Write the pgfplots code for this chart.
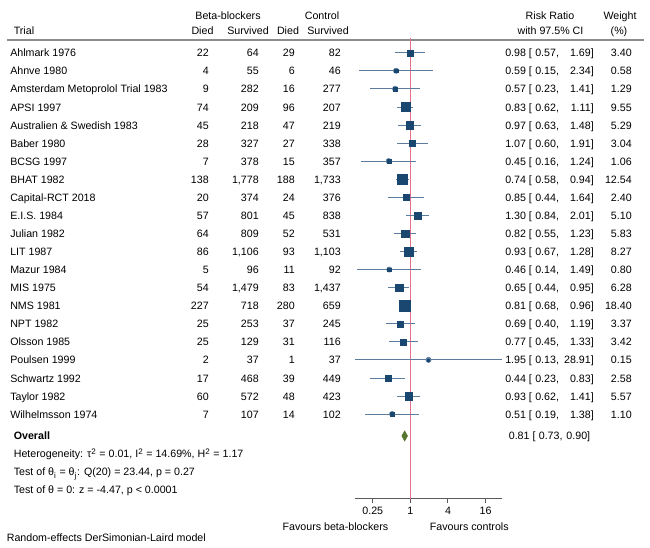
\documentclass[border=0pt]{standalone}
\usepackage{fontspec}
\setmainfont{Liberation Sans}
\usepackage{pgfplots}
\usepackage{pgfplotstable}
\pgfplotsset{compat=1.18}

\definecolor{bbl}{HTML}{1A476F}
\definecolor{ciblue}{HTML}{5B7C9C}
\definecolor{nullred}{HTML}{E8708C}
\definecolor{ovgreen}{HTML}{55752F}
\definecolor{rulegray}{HTML}{8C8C8C}
\definecolor{axgray}{HTML}{5A5A5A}

% i = row, bd/bs = beta-blockers died/survived, cd/cs = control died/survived
\pgfplotstableread[col sep=semicolon]{
i;name;bd;bs;cd;cs;rr;lo;hi;w
1;Ahlmark 1976;22;64;29;82;0.98;0.57;1.69;3.40
2;Ahnve 1980;4;55;6;46;0.59;0.15;2.34;0.58
3;Amsterdam Metoprolol Trial 1983;9;282;16;277;0.57;0.23;1.41;1.29
4;APSI 1997;74;209;96;207;0.83;0.62;1.11;9.55
5;Australien \& Swedish 1983;45;218;47;219;0.97;0.63;1.48;5.29
6;Baber 1980;28;327;27;338;1.07;0.60;1.91;3.04
7;BCSG 1997;7;378;15;357;0.45;0.16;1.24;1.06
8;BHAT 1982;138;1,778;188;1,733;0.74;0.58;0.94;12.54
9;Capital-RCT 2018;20;374;24;376;0.85;0.44;1.64;2.40
10;E.I.S. 1984;57;801;45;838;1.30;0.84;2.01;5.10
11;Julian 1982;64;809;52;531;0.82;0.55;1.23;5.83
12;LIT 1987;86;1,106;93;1,103;0.93;0.67;1.28;8.27
13;Mazur 1984;5;96;11;92;0.46;0.14;1.49;0.80
14;MIS 1975;54;1,479;83;1,437;0.65;0.44;0.95;6.28
15;NMS 1981;227;718;280;659;0.81;0.68;0.96;18.40
16;NPT 1982;25;253;37;245;0.69;0.40;1.19;3.37
17;Olsson 1985;25;129;31;116;0.77;0.45;1.33;3.42
18;Poulsen 1999;2;37;1;37;1.95;0.13;28.91;0.15
19;Schwartz 1992;17;468;39;449;0.44;0.23;0.83;2.58
20;Taylor 1982;60;572;48;423;0.93;0.62;1.41;5.57
21;Wilhelmsson 1974;7;107;14;102;0.51;0.19;1.38;1.10
}\trials

\begin{document}
\fontsize{8}{9.6}\selectfont
\begin{tikzpicture}
\path[use as bounding box] (0,0) rectangle (487.5pt,411pt);

% text layer, in pixel units of the 650x548 canvas
\begin{axis}[
    at={(0,0)}, anchor=south west,
    scale only axis, width=487.5pt, height=411pt,
    xmin=0, xmax=650, ymin=0, ymax=548, y dir=reverse,
    hide axis, clip=false,
    txt/.style={black, draw=none, mark=none, point meta=explicit symbolic,
        nodes near coords, nodes near coords style={inner sep=0pt, text=black}},
    every node/.append style={inner sep=0pt},
]
\addplot[txt, nodes near coords style={anchor=base west}]
    table[x expr=10, y expr=56.8+18.07*(\thisrow{i}-1), meta=name]{\trials};
\addplot[txt, nodes near coords style={anchor=base east}]
    table[x expr=209, y expr=56.8+18.07*(\thisrow{i}-1), meta=bd]{\trials};
\addplot[txt, nodes near coords style={anchor=base east}]
    table[x expr=259, y expr=56.8+18.07*(\thisrow{i}-1), meta=bs]{\trials};
\addplot[txt, nodes near coords style={anchor=base east}]
    table[x expr=295, y expr=56.8+18.07*(\thisrow{i}-1), meta=cd]{\trials};
\addplot[txt, nodes near coords style={anchor=base east}]
    table[x expr=341, y expr=56.8+18.07*(\thisrow{i}-1), meta=cs]{\trials};
\addplot[txt, nodes near coords={\pgfplotspointmeta\ [},
    nodes near coords style={anchor=base west}]
    table[x expr=505, y expr=56.8+18.07*(\thisrow{i}-1), meta=rr]{\trials};
\addplot[txt, nodes near coords={\pgfplotspointmeta,},
    nodes near coords style={anchor=base west}]
    table[x expr=535, y expr=56.8+18.07*(\thisrow{i}-1), meta=lo]{\trials};
\addplot[txt, nodes near coords={\pgfplotspointmeta]},
    nodes near coords style={anchor=base east}]
    table[x expr=594, y expr=56.8+18.07*(\thisrow{i}-1), meta=hi]{\trials};
\addplot[txt, nodes near coords style={anchor=base east}]
    table[x expr=632, y expr=56.8+18.07*(\thisrow{i}-1), meta=w]{\trials};

% headers
\node[anchor=base] at (axis cs:228,19.5) {Beta-blockers};
\node[anchor=base] at (axis cs:322,19.5) {Control};
\node[anchor=base west] at (axis cs:10,34.5) {Trial};
\node[anchor=base] at (axis cs:202.5,34.5) {Died};
\node[anchor=base] at (axis cs:248,34.5) {Survived};
\node[anchor=base] at (axis cs:288,34.5) {Died};
\node[anchor=base] at (axis cs:328,34.5) {Survived};
\node[anchor=base] at (axis cs:550,19.5) {Risk Ratio};
\node[anchor=base] at (axis cs:550.5,34.5) {with 97.5\% CI};
\node[anchor=base] at (axis cs:620,19.5) {Weight};
\node[anchor=base] at (axis cs:619,34.5) {(\%)};
\draw[rulegray, line width=1.5pt] (axis cs:7,40) -- (axis cs:644,40);

% overall block
\node[anchor=base west, font=\bfseries] at (axis cs:10,440) {Overall};
\node[anchor=base west] at (axis cs:505,440) {0.81\ [};
\node[anchor=base west] at (axis cs:535,440) {0.73,};
\node[anchor=base east] at (axis cs:594,440) {0.90]};
\node[anchor=base west] at (axis cs:10,458) {Heterogeneity: τ\textsuperscript{2} = 0.01, I\textsuperscript{2} = 14.69\%, H\textsuperscript{2} = 1.17};
\node[anchor=base west] at (axis cs:10,476) {Test of θ\textsubscript{i} = θ\textsubscript{j}: Q(20) = 23.44, p = 0.27};
\node[anchor=base west] at (axis cs:10,494) {Test of θ = 0: z = -4.47, p < 0.0001};

\node[anchor=base east] at (axis cs:392,530.5) {Favours beta-blockers};
\node[anchor=base west] at (axis cs:426,530.5) {Favours controls};
\node[anchor=base west] at (axis cs:3,541.5) {Random-effects DerSimonian-Laird model};
\end{axis}

% forest plot
\begin{axis}[
    at={(266.25pt,36.75pt)}, anchor=south west,
    scale only axis, width=110pt, height=345.75pt,
    xmode=log, log basis x=2,
    xmin=0.13, xmax=28.91,
    ymin=0.186, ymax=25.70, y dir=reverse,
    axis x line*=bottom, axis y line=none,
    xtick={0.25,1,4,16}, xticklabels={0.25,1,4,16},
    tick align=outside, major tick length=3pt,
    x axis line style={axgray, line width=0.75pt},
    xtick style={axgray, line width=0.75pt},
    ytick=\empty, clip=false,
]
\addplot[nullred, line width=1.1pt] coordinates {(1,0.186) (1,25.70)};

\addplot[ciblue, only marks, mark=none,
    error bars/.cd, x dir=both, x explicit, error mark=none,
    error bar style={ciblue, line width=0.6pt}]
    table[x=rr, y=i,
          x error plus expr=\thisrow{hi}-\thisrow{rr},
          x error minus expr=\thisrow{rr}-\thisrow{lo}]{\trials};

\addplot[scatter, only marks, mark=square*,
    mark options={line width=0.1pt},
    scatter/use mapped color={draw=bbl, fill=bbl},
    visualization depends on={1.49*(\thisrow{w})^0.37 \as \msz},
    scatter/@pre marker code/.append style={/tikz/mark size=\msz}]
    table[x=rr, y=i]{\trials};

\addplot[ovgreen, fill=ovgreen, line width=0.4pt]
    coordinates {(0.73,22.21) (0.81,21.93) (0.90,22.21) (0.81,22.49)} -- cycle;
\end{axis}
\end{tikzpicture}
\end{document}
